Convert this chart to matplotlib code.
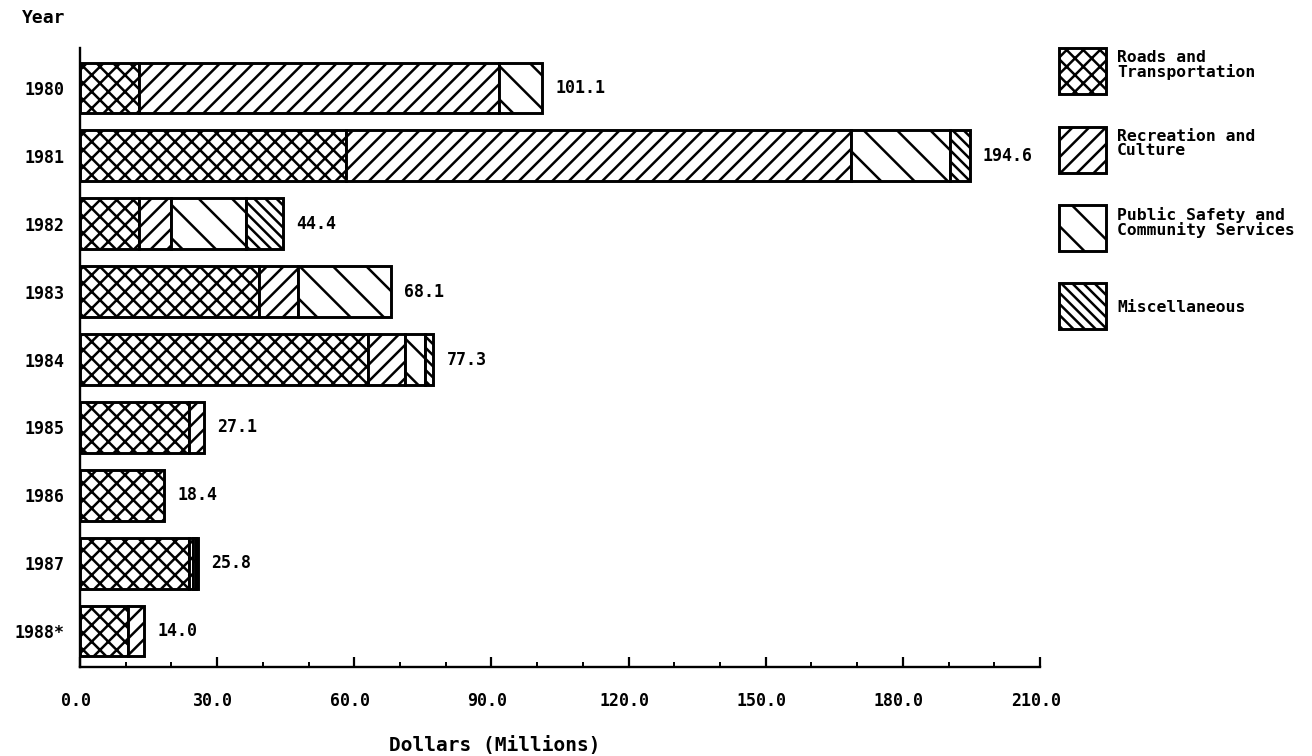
import matplotlib
matplotlib.use('Agg')
import matplotlib.pyplot as plt
from matplotlib.patches import Rectangle
from matplotlib.ticker import FixedLocator, MultipleLocator
import matplotlib.transforms as mtransforms

years = ['1980', '1981', '1982', '1983', '1984', '1985', '1986', '1987', '1988*']
roads = [13.0, 58.1, 13.0, 39.1, 62.9, 23.8, 18.4, 23.8, 10.4]
recreation = [78.7, 110.6, 7.0, 8.6, 8.3, 3.3, 0.0, 1.0, 3.6]
public_safety = [9.4, 21.7, 16.3, 20.4, 4.3, 0.0, 0.0, 0.5, 0.0]
misc = [0.0, 4.2, 8.1, 0.0, 1.8, 0.0, 0.0, 0.5, 0.0]
totals = [101.1, 194.6, 44.4, 68.1, 77.3, 27.1, 18.4, 25.8, 14.0]
total_labels = ['101.1', '194.6', '44.4', '68.1', '77.3', '27.1', '18.4', '25.8', '14.0']
series_names = ['Roads and\nTransportation', 'Recreation and\nCulture',
                'Public Safety and\nCommunity Services', 'Miscellaneous']
x_ticks = [0, 30, 60, 90, 120, 150, 180, 210]
x_tick_labels = ['0.0', '30.0', '60.0', '90.0', '120.0', '150.0', '180.0', '210.0']

hatches = ['xxxx', '////', '\\\\', '\\' * 6]
series = [roads, recreation, public_safety, misc]

DPI = 200
W, H = 1312, 756
plt.rcParams['hatch.linewidth'] = 0.9
plt.rcParams['hatch.color'] = 'black'
FONT = ['DejaVu Sans Mono']

fig = plt.figure(figsize=(W / DPI, H / DPI), dpi=DPI)
ax = fig.add_axes([80 / W, 1 - 667 / H, (1040 - 80) / W, (667 - 48) / H])

ypos = list(range(len(years)))
left = [0.0] * len(years)
for vals, h in zip(series, hatches):
    ys = [y for y, v in zip(ypos, vals) if v > 0]
    ws = [v for v in vals if v > 0]
    ls = [l for l, v in zip(left, vals) if v > 0]
    ax.barh(ys, ws, left=ls, height=0.75, color='white', edgecolor='black',
            hatch=h, linewidth=1.05, zorder=2)
    left = [l + v for l, v in zip(left, vals)]

for y, t, lab in zip(ypos, totals, total_labels):
    ax.annotate(lab, xy=(t, y), xytext=(4.7, 0), textcoords='offset points',
                va='center', ha='left', fontsize=6.0, fontweight='bold',
                family=FONT)

ax.set_xlim(0, 210)
ax.set_ylim(len(years) - 1 + 0.53, -0.59)
ax.spines['top'].set_visible(False)
ax.spines['right'].set_visible(False)
ax.spines['left'].set_linewidth(0.85)
ax.spines['bottom'].set_linewidth(0.85)

ax.xaxis.set_major_locator(FixedLocator(x_ticks))
ax.set_xticklabels(x_tick_labels)
ax.xaxis.set_minor_locator(MultipleLocator(10))
ax.tick_params(axis='x', which='major', direction='in', length=3.5, width=0.8, pad=9)
ax.tick_params(axis='x', which='minor', direction='in', length=1.8, width=0.7)
off = mtransforms.ScaledTranslation(-4 / DPI, 0, fig.dpi_scale_trans)
for lab in ax.get_xticklabels():
    lab.set_transform(lab.get_transform() + off)
    lab.set_fontsize(6.0)
    lab.set_fontweight('bold')
    lab.set_family(FONT)

ax.set_yticks(ypos)
ax.set_yticklabels(years)
ax.tick_params(axis='y', which='major', length=0, pad=5.4)
for lab in ax.get_yticklabels():
    lab.set_fontsize(6.0)
    lab.set_fontweight('bold')
    lab.set_family(FONT)

fig.text(22 / W, 1 - 18 / H, 'Year', ha='left', va='center', fontsize=6.5,
         fontweight='bold', family=FONT)
fig.text(495 / W, 1 - 745 / H, 'Dollars (Millions)', ha='center', va='center',
         fontsize=7.0, fontweight='bold', family=FONT)

# legend
box_tops = [48, 127, 205, 283]
for top, name, h in zip(box_tops, series_names, hatches):
    rect = Rectangle((1059 / W, 1 - (top + 46) / H), 47 / W, 46 / H,
                     transform=fig.transFigure, facecolor='white',
                     edgecolor='black', hatch=h, linewidth=1.05)
    fig.add_artist(rect)
    if '\n' in name:
        fig.text(1117 / W, 1 - (top + 2) / H, name, ha='left', va='top',
                 fontsize=5.9, fontweight='bold', family=FONT, linespacing=0.95)
    else:
        fig.text(1117 / W, 1 - (top + 24) / H, name, ha='left', va='center',
                 fontsize=5.9, fontweight='bold', family=FONT)

fig.savefig('out.png', dpi=DPI)
